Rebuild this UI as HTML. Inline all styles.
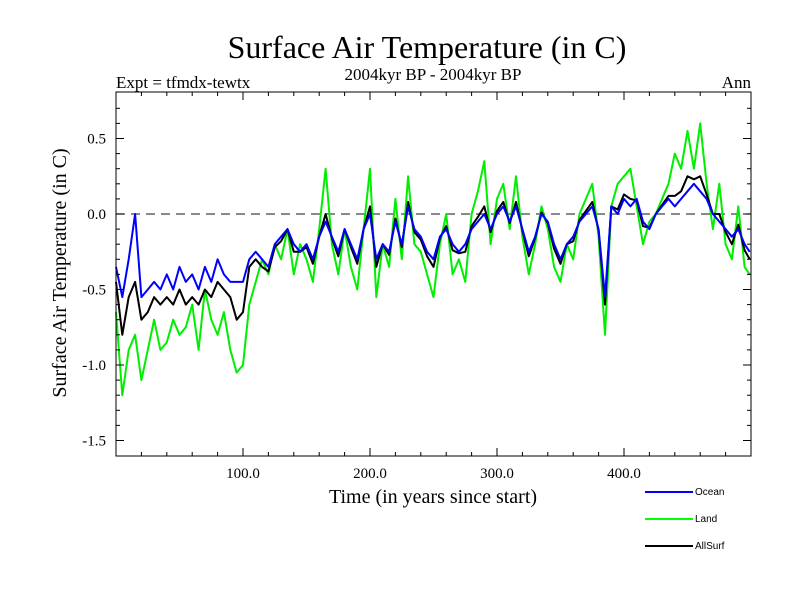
<!DOCTYPE html>
<html><head><meta charset="utf-8"><style>
body{margin:0;background:#fff;}
svg{display:block;font-family:"Liberation Serif",serif;}
</style></head><body>
<svg id="chart" width="800" height="600" xmlns="http://www.w3.org/2000/svg">
<text x="427" y="58" font-size="32" text-anchor="middle">Surface Air Temperature (in C)</text>
<text x="433" y="80" font-size="17" text-anchor="middle">2004kyr BP - 2004kyr BP</text>
<text x="116" y="88" font-size="17">Expt = tfmdx-tewtx</text>
<text x="751" y="88" font-size="17" text-anchor="end">Ann</text>
<text transform="translate(66,273) rotate(-90)" font-size="20" text-anchor="middle">Surface Air Temperature (in C)</text>
<text x="433" y="503" font-size="20" text-anchor="middle">Time (in years since start)</text>
<g id="series"></g>
<g id="axes"></g>
<g font-family="Liberation Sans, sans-serif" font-size="10">
<line x1="645" y1="492" x2="693" y2="492" stroke="#0000ff" stroke-width="2"/>
<text x="695" y="495">Ocean</text>
<line x1="645" y1="519" x2="693" y2="519" stroke="#00ff00" stroke-width="2"/>
<text x="695" y="522">Land</text>
<line x1="645" y1="546" x2="693" y2="546" stroke="#000" stroke-width="2"/>
<text x="695" y="549">AllSurf</text>
</g>
</svg>
<script>
const years = [0,5,10,15,20,25,30,35,40,45,50,55,60,65,70,75,80,85,90,95,100,105,110,115,120,125,130,135,140,145,150,155,160,165,170,175,180,185,190,195,200,205,210,215,220,225,230,235,240,245,250,255,260,265,270,275,280,285,290,295,300,305,310,315,320,325,330,335,340,345,350,355,360,365,370,375,380,385,390,395,400,405,410,415,420,425,430,435,440,445,450,455,460,465,470,475,480,485,490,495,499];
const ocean = [-0.35,-0.55,-0.3,0.0,-0.55,-0.5,-0.45,-0.5,-0.4,-0.5,-0.35,-0.45,-0.4,-0.5,-0.35,-0.45,-0.3,-0.4,-0.45,-0.45,-0.45,-0.3,-0.25,-0.3,-0.35,-0.2,-0.15,-0.1,-0.2,-0.25,-0.2,-0.3,-0.15,-0.05,-0.15,-0.25,-0.1,-0.2,-0.3,-0.1,0.0,-0.3,-0.2,-0.25,-0.05,-0.2,0.05,-0.1,-0.15,-0.25,-0.3,-0.15,-0.1,-0.2,-0.25,-0.2,-0.1,-0.05,0.0,-0.1,0.0,0.05,-0.05,0.05,-0.1,-0.25,-0.15,0.0,-0.05,-0.2,-0.3,-0.2,-0.15,-0.05,0.0,0.05,-0.1,-0.55,0.05,0.0,0.1,0.05,0.1,-0.05,-0.1,0.0,0.05,0.1,0.05,0.1,0.15,0.2,0.15,0.1,0.0,-0.05,-0.1,-0.15,-0.1,-0.2,-0.25];
const land = [-0.65,-1.2,-0.9,-0.8,-1.1,-0.9,-0.7,-0.9,-0.85,-0.7,-0.8,-0.75,-0.6,-0.9,-0.5,-0.7,-0.8,-0.65,-0.9,-1.05,-1.0,-0.6,-0.45,-0.3,-0.4,-0.2,-0.3,-0.1,-0.4,-0.2,-0.3,-0.45,-0.1,0.3,-0.2,-0.4,-0.1,-0.35,-0.5,-0.1,0.3,-0.55,-0.2,-0.35,0.1,-0.3,0.25,-0.2,-0.25,-0.4,-0.55,-0.2,0.0,-0.4,-0.3,-0.45,0.0,0.15,0.35,-0.2,0.1,0.2,-0.1,0.25,-0.15,-0.4,-0.2,0.05,-0.1,-0.35,-0.45,-0.2,-0.3,0.0,0.1,0.2,-0.15,-0.8,0.05,0.2,0.25,0.3,0.05,-0.2,-0.05,0.0,0.1,0.2,0.4,0.3,0.55,0.3,0.6,0.2,-0.1,0.2,-0.2,-0.3,0.05,-0.35,-0.4];
const allsurf = [-0.45,-0.8,-0.55,-0.45,-0.7,-0.65,-0.55,-0.6,-0.55,-0.6,-0.5,-0.6,-0.55,-0.6,-0.5,-0.55,-0.45,-0.5,-0.55,-0.7,-0.65,-0.35,-0.3,-0.35,-0.38,-0.22,-0.18,-0.1,-0.25,-0.25,-0.22,-0.33,-0.15,0.0,-0.16,-0.28,-0.1,-0.22,-0.33,-0.1,0.05,-0.35,-0.2,-0.27,-0.03,-0.22,0.08,-0.12,-0.17,-0.28,-0.35,-0.16,-0.08,-0.24,-0.26,-0.25,-0.08,-0.02,0.05,-0.12,0.02,0.08,-0.06,0.08,-0.11,-0.28,-0.16,0.01,-0.06,-0.23,-0.33,-0.2,-0.18,-0.04,0.02,0.08,-0.11,-0.6,0.05,0.03,0.13,0.1,0.09,-0.08,-0.09,0.0,0.06,0.12,0.12,0.15,0.25,0.23,0.25,0.13,0.0,0.0,-0.12,-0.2,-0.07,-0.24,-0.3];
const yTicks = [-1.5,-1.0,-0.5,0.0,0.5];
const xTicks = [100,200,300,400];

const X0=116,X1=751,Y0=92,Y1=456;
const xS=v=>X0+(v-0)/(500-0)*(X1-X0);
const yS=v=>214-(v*151);
const NS="http://www.w3.org/2000/svg";
const ser=document.getElementById('series'), ax=document.getElementById('axes');
function mk(tag,attrs,parent){const e=document.createElementNS(NS,tag);for(const k in attrs)e.setAttribute(k,attrs[k]);parent.appendChild(e);return e;}

let zl=mk('line',{x1:X0,x2:X1,y1:yS(0),y2:yS(0),stroke:'#444','stroke-width':1.2,'stroke-dasharray':'9,6'},ser);



function drawLine(vals,color,name){
  const d=vals.map((v,i)=>(i?'L':'M')+xS(years[i]).toFixed(1)+','+yS(v).toFixed(1)).join('');
  const p=mk('path',{d:d,fill:'none',stroke:color,'stroke-width':2,'stroke-linejoin':'round'},ser);
  
  
}
drawLine(land,'#00ee00','land-line');
drawLine(allsurf,'#000000','allsurf-line');
drawLine(ocean,'#0000ff','ocean-line');

let fr=mk('rect',{x:X0,y:Y0,width:X1-X0,height:Y1-Y0,fill:'none',stroke:'#000','stroke-width':1},ax);



for(let v=20;v<500;v+=20){
  const x=xS(v), major=(v%100===0), L=major?8:4;
  mk('line',{x1:x,x2:x,y1:Y1,y2:Y1-L,stroke:'#000'},ax);
  mk('line',{x1:x,x2:x,y1:Y0,y2:Y0+L,stroke:'#000'},ax);
}
xTicks.forEach(v=>{
  const t=mk('text',{x:xS(v),y:Y1+22,'font-size':15,'text-anchor':'middle'},ax);
  t.textContent=v.toFixed(1);
  
  
});
for(let k=-15;k<=7;k++){
  const v=k/10,y=yS(v),major=(k%5===0),L=major?8:4;
  if(y<Y0||y>Y1)continue;
  mk('line',{x1:X0,x2:X0+L,y1:y,y2:y,stroke:'#000'},ax);
  mk('line',{x1:X1,x2:X1-L,y1:y,y2:y,stroke:'#000'},ax);
}
yTicks.forEach(v=>{
  const t=mk('text',{x:X0-10,y:yS(v)+5,'font-size':15,'text-anchor':'end'},ax);
  t.textContent=v.toFixed(1);
  
  
});
</script>
</body></html>
